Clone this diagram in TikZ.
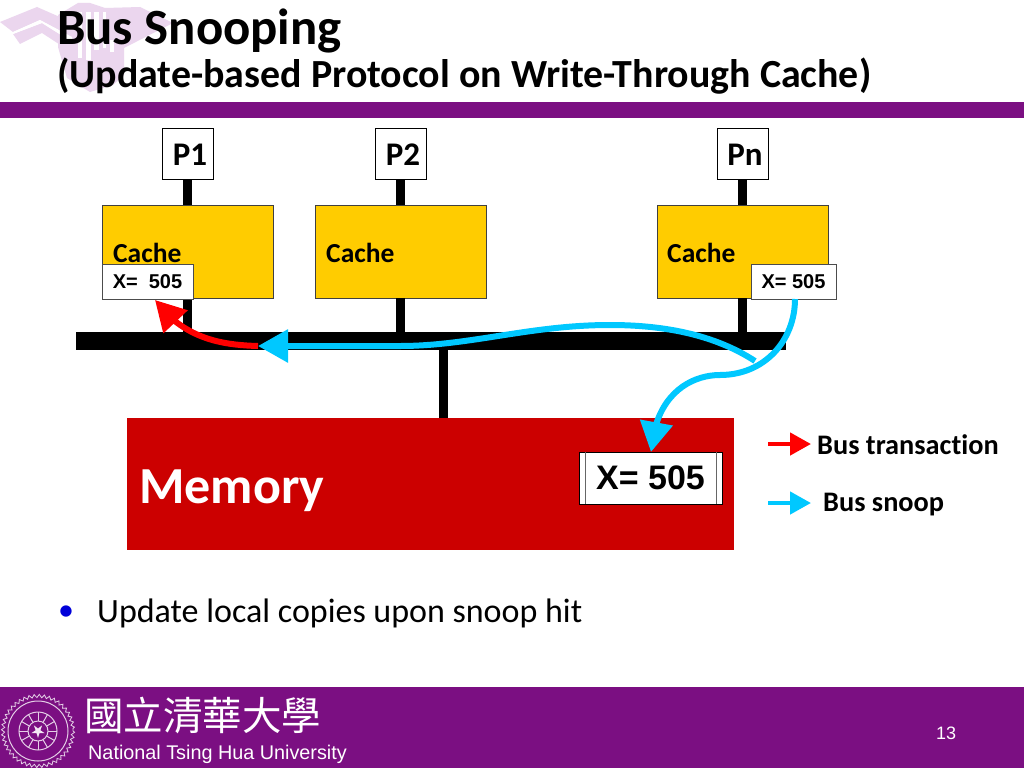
\documentclass[tikz,border=0pt]{standalone}
\usepackage{fontspec}
\setmainfont[Ligatures=CommonOff]{Carlito}
\newfontfamily\arialf{Liberation Sans}
\newfontfamily\cjkf{Noto Sans CJK TC}
\usetikzlibrary{arrows.meta,bending,calc,decorations.pathmorphing}
\definecolor{nthu}{HTML}{7B0F82}
\definecolor{gold}{HTML}{FFCC00}
\definecolor{memred}{HTML}{CC0000}
\definecolor{snoopblue}{HTML}{00C8FF}
\definecolor{crest}{HTML}{EBD6EE}
\newcommand{\fs}[1]{\fontsize{#1pt}{#1pt}\selectfont}
\tikzset{
  x=1pt,y=-1pt,
  procbox/.style={draw=black,line width=0.8pt,fill=white,minimum width=51pt,minimum height=51pt,inner sep=0pt,font=\fs{33}\bfseries,text height=24pt,text depth=0pt},
  cachebox/.style={draw=black!75,line width=0.8pt,fill=gold,minimum width=171pt,minimum height=93pt,inner sep=0pt},
  cachetext/.style={anchor=west,inner sep=0pt,font=\fs{27.5}\bfseries},
  valbox/.style={draw=black!70,line width=0.8pt,fill=white,minimum height=35pt,inner sep=0pt,font=\arialf\fs{20}\bfseries},
  link/.style={line width=9pt,black},
  transarrow/.style={memarrow,red},
  snooparrow/.style={memarrow,snoopblue},
  memarrow/.style={line width=6pt,-{Triangle[length=30pt,width=32pt,flex=1]}},
  legendarrow/.style={line width=4.5pt,-{Triangle[length=21pt,width=22pt]}},
  legendtext/.style={anchor=west,inner sep=0pt,font=\fs{28.3}\bfseries},
}
\begin{document}
\begin{tikzpicture}
\useasboundingbox (0,0) rectangle (1024,768);
\fill[white] (0,0) rectangle (1024,768);
% crest watermark
\fill[crest] (0,22) -- (37,7) -- (78,25) -- (72,37) -- (40,20) -- (13,32) -- cycle;
\fill[crest] (13,34) -- (42,23) -- (72,42) -- (68,50) -- (42,33) -- (20,44) -- cycle;
\fill[crest] (58,15) -- (78,3) -- (90,3) -- (105,8) -- (140,7) -- (173,23) -- (124,48) -- (124,75) -- (113,85) -- (90,92) -- (67,78) -- (58,47) -- cycle;
\fill[white] (42,23) -- (13,34) -- (13,32) -- (40,20) -- (72,37) -- (72,42) -- cycle;
\foreach \xa/\xb/\ya/\yb in {78/82/12/58,86/91/12/60,94/99/12/50,103/106/12/48,110/114/40/52}{
  \fill[white] (\xa,\ya) rectangle (\xb,\yb);}
% bands
\fill[nthu] (0,102) rectangle (1024,118);
\fill[nthu] (0,687) rectangle (1024,768);
% titles
\node[anchor=west,inner sep=0pt,font=\fs{50.8}\bfseries] (title) at (57,31) {Bus Snooping};
\node[anchor=west,inner sep=0pt,font=\fs{39.9}\bfseries] (subtitle) at (57,76) {(Update-based Protocol on Write-Through Cache)};
% bus and memory
\node[fill=black,minimum width=710pt,minimum height=18pt,inner sep=0pt] (bus) at (431,341) {};
\node[fill=memred,minimum width=607pt,minimum height=132pt,inner sep=0pt] (mem) at (430.5,484) {};
\draw[link] ($(bus.south)+(12,0)$) -- ($(mem.north)+(12.5,0)$);
% processors and caches
\node[procbox] (p1) at (187.5,153.5) {\hspace{5pt}P1};
\node[procbox] (p2) at (400.5,153.5) {\hspace{5pt}P2};
\node[procbox] (pn) at (742.5,153.5) {\hspace{5pt}Pn};
\node[cachebox] (c1) at (187.5,251.5) {};
\node[cachebox] (c2) at (400.5,251.5) {};
\node[cachebox] (cn) at (742.5,251.5) {};
\foreach \p/\c in {p1/c1,p2/c2,pn/cn}{
  \draw[link] (\p.south) -- (\c.north);
  \draw[link] (\c.south) -- (\c.south |- bus.north);
}
\node[cachetext] (t1) at (113,253) {Cache};
\node[cachetext] (t2) at (326,253) {Cache};
\node[cachetext] (tn) at (667,253) {Cache};
\node[valbox,minimum width=91pt] (x1) at (147.5,281.5) {\raisebox{-0.7pt}{X=\ \ 505}};
\node[valbox,minimum width=85pt] (xn) at (793.5,281.5) {\raisebox{-0.7pt}{X= 505}};
% memory labels
\node[anchor=west,inner sep=0pt,text=white,font=\fs{52}\bfseries] (memtext) at (139,491) {Memory};
\node[draw=black,line width=0.8pt,fill=white,minimum width=143pt,minimum height=52pt,inner sep=0pt,font=\arialf\fs{34}\bfseries] (xm) at (650.5,478) {\raisebox{-2.5pt}{X= 505}};
\draw[black!60,line width=1.4pt] ($(xm.north west)+(7,0)$) -- ($(xm.south west)+(7,0)$);
\draw[black!60,line width=1.4pt] ($(xm.north east)+(-6,0)$) -- ($(xm.south east)+(-6,0)$);
% arrows
\coordinate (redstart) at (258,346);
\coordinate (redtip) at (155,300);
\coordinate (bluejoin) at (755,361);
\coordinate (bluetip) at (258,346);
\coordinate (xntail) at (795,299);
\coordinate (memtip) at (651,452);
\draw[transarrow] (redstart) .. controls (220,345) and (183,338) .. (redtip);
\draw[snooparrow] (bluejoin) .. controls (715,335) and (665,325) .. (610,325) .. controls (530,325) and (470,346) .. (400,346) -- (bluetip);
\draw[snooparrow] (xntail) .. controls (795,340) and (765,375) .. (720,375) .. controls (690,375) and (655,395) .. (memtip);
% legend
\coordinate (la) at (768,444); \coordinate (lb) at (811,444);
\coordinate (lc) at (768,503); \coordinate (ld) at (811,503);
\draw[legendarrow,red] (la) -- (lb);
\draw[legendarrow,snoopblue] (lc) -- (ld);
\node[legendtext] (ltrans) at (817,445) {Bus transaction};
\node[legendtext] (lsnoop) at (823,505) {Bus snoop};
% bullet
\node[anchor=west,inner sep=0pt,text=blue!85!black,font=\fs{32}] (bul) at (58,613) {•};
\node[anchor=west,inner sep=0pt,font=\fs{34}] (upd) at (97,613) {Update local copies upon snoop hit};
% footer
\node[anchor=west,inner sep=0pt,text=white,font=\cjkf\fs{39.5}] (cn1) at (84,715) {國立清華大學};
\node[anchor=west,inner sep=0pt,text=white,font=\arialf\fs{19.8}] (nthutext) at (88,754) {National Tsing Hua University};
\node[anchor=center,inner sep=0pt,text=white,font=\arialf\fs{18}] (pg) at (946,733) {13};
% seal
\begin{scope}[shift={(38,731)}]
\draw[white!80!nthu,line width=0.8pt,decorate,decoration={zigzag,amplitude=1.6pt,segment length=5pt}] (0,0) circle[radius=35];
\draw[white!80!nthu,line width=1pt] (0,0) circle[radius=30];
\draw[white!80!nthu,line width=1pt] (0,0) circle[radius=19];
\draw[white!80!nthu,line width=1pt] (0,0) circle[radius=10];
\foreach \a in {0,30,...,330}{\draw[white!80!nthu,line width=1pt] (\a:10) -- (\a:19);}
\fill[white!90!nthu] (90:7) -- (126:2.5) -- (162:7) -- (198:2.5) -- (234:7) -- (270:2.5) -- (306:7) -- (342:2.5) -- (18:7) -- (54:2.5) -- cycle;
\end{scope}
\end{tikzpicture}
\end{document}
